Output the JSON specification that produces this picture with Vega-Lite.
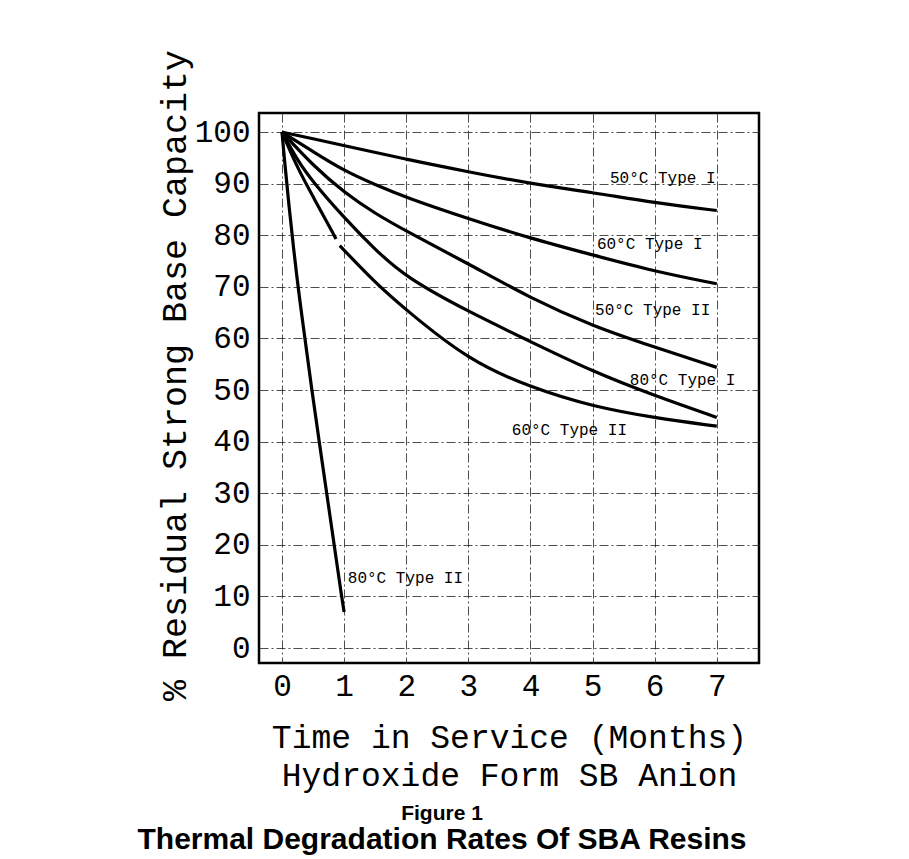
{
  "$schema": "https://vega.github.io/schema/vega-lite/v6.json",
  "autosize": "none",
  "width": 500,
  "height": 550,
  "padding": {"left": 259, "top": 113, "right": 150, "bottom": 196},
  "background": "white",
  "config": {
    "view": {"stroke": "black", "strokeWidth": 2.5},
    "font": "Liberation Mono",
    "axis": {
      "domain": false,
      "ticks": false,
      "grid": true,
      "gridColor": "#222222",
      "gridDash": [9, 3, 2, 3],
      "gridWidth": 1,
      "gridOpacity": 0.8,
      "labelFont": "Liberation Mono",
      "labelFontSize": 31,
      "labelColor": "black",
      "labelFlush": false,
      "titleFont": "Liberation Mono",
      "titleFontWeight": "normal",
      "titleColor": "black"
    }
  },
  "title": {
    "text": "Figure 1",
    "subtitle": "Thermal Degradation Rates Of SBA Resins",
    "orient": "bottom",
    "anchor": "middle",
    "dx": -67,
    "offset": 11,
    "font": "Liberation Sans",
    "fontSize": 21,
    "fontWeight": "bold",
    "color": "black",
    "subtitleFont": "Liberation Sans",
    "subtitleFontSize": 30,
    "subtitleFontWeight": "bold",
    "subtitleColor": "black",
    "subtitlePadding": 1
  },
  "datasets": {
    "curves": [
      {"s": "50°C Type I", "seg": 1, "t": 0, "v": 100},
      {"s": "50°C Type I", "seg": 1, "t": 0.5, "v": 98.7},
      {"s": "50°C Type I", "seg": 1, "t": 1, "v": 97.4},
      {"s": "50°C Type I", "seg": 1, "t": 2, "v": 94.7},
      {"s": "50°C Type I", "seg": 1, "t": 3, "v": 92.3},
      {"s": "50°C Type I", "seg": 1, "t": 4, "v": 90.0},
      {"s": "50°C Type I", "seg": 1, "t": 5, "v": 88.3},
      {"s": "50°C Type I", "seg": 1, "t": 6, "v": 86.3},
      {"s": "50°C Type I", "seg": 1, "t": 7, "v": 84.8},

      {"s": "60°C Type I", "seg": 1, "t": 0, "v": 100},
      {"s": "60°C Type I", "seg": 1, "t": 0.5, "v": 96.2},
      {"s": "60°C Type I", "seg": 1, "t": 1, "v": 92.5},
      {"s": "60°C Type I", "seg": 1, "t": 1.5, "v": 89.8},
      {"s": "60°C Type I", "seg": 1, "t": 2, "v": 87.3},
      {"s": "60°C Type I", "seg": 1, "t": 3, "v": 83.2},
      {"s": "60°C Type I", "seg": 1, "t": 4, "v": 79.4},
      {"s": "60°C Type I", "seg": 1, "t": 5, "v": 76.2},
      {"s": "60°C Type I", "seg": 1, "t": 6, "v": 73.0},
      {"s": "60°C Type I", "seg": 1, "t": 7, "v": 70.6},

      {"s": "50°C Type II", "seg": 1, "t": 0, "v": 100},
      {"s": "50°C Type II", "seg": 1, "t": 0.5, "v": 93.5},
      {"s": "50°C Type II", "seg": 1, "t": 1, "v": 88.3},
      {"s": "50°C Type II", "seg": 1, "t": 1.5, "v": 84.2},
      {"s": "50°C Type II", "seg": 1, "t": 2, "v": 80.8},
      {"s": "50°C Type II", "seg": 1, "t": 3, "v": 74.5},
      {"s": "50°C Type II", "seg": 1, "t": 4, "v": 67.8},
      {"s": "50°C Type II", "seg": 1, "t": 5, "v": 62.4},
      {"s": "50°C Type II", "seg": 1, "t": 6, "v": 58.3},
      {"s": "50°C Type II", "seg": 1, "t": 7, "v": 54.4},

      {"s": "80°C Type I", "seg": 1, "t": 0, "v": 100},
      {"s": "80°C Type I", "seg": 1, "t": 0.25, "v": 94.5},
      {"s": "80°C Type I", "seg": 1, "t": 0.5, "v": 90.3},
      {"s": "80°C Type I", "seg": 1, "t": 1, "v": 83.4},
      {"s": "80°C Type I", "seg": 1, "t": 1.5, "v": 77.2},
      {"s": "80°C Type I", "seg": 1, "t": 2, "v": 71.8},
      {"s": "80°C Type I", "seg": 1, "t": 3, "v": 65.2},
      {"s": "80°C Type I", "seg": 1, "t": 4, "v": 59.4},
      {"s": "80°C Type I", "seg": 1, "t": 5, "v": 53.6},
      {"s": "80°C Type I", "seg": 1, "t": 6, "v": 48.9},
      {"s": "80°C Type I", "seg": 1, "t": 7, "v": 44.7},

      {"s": "60°C Type II", "seg": 1, "t": 0, "v": 100},
      {"s": "60°C Type II", "seg": 1, "t": 0.25, "v": 93.0},
      {"s": "60°C Type II", "seg": 1, "t": 0.5, "v": 87.5},
      {"s": "60°C Type II", "seg": 1, "t": 0.87, "v": 79.3},
      {"s": "60°C Type II", "seg": 2, "t": 0.93, "v": 78.0},
      {"s": "60°C Type II", "seg": 2, "t": 1.5, "v": 70.8},
      {"s": "60°C Type II", "seg": 2, "t": 2, "v": 65.5},
      {"s": "60°C Type II", "seg": 2, "t": 3, "v": 55.8},
      {"s": "60°C Type II", "seg": 2, "t": 4, "v": 50.5},
      {"s": "60°C Type II", "seg": 2, "t": 5, "v": 46.8},
      {"s": "60°C Type II", "seg": 2, "t": 6, "v": 44.6},
      {"s": "60°C Type II", "seg": 2, "t": 7, "v": 43.0},

      {"s": "80°C Type II", "seg": 1, "t": 0, "v": 100},
      {"s": "80°C Type II", "seg": 1, "t": 0.03, "v": 96.0},
      {"s": "80°C Type II", "seg": 1, "t": 0.1, "v": 87.0},
      {"s": "80°C Type II", "seg": 1, "t": 0.24, "v": 71.5},
      {"s": "80°C Type II", "seg": 1, "t": 0.37, "v": 60.0},
      {"s": "80°C Type II", "seg": 1, "t": 0.48, "v": 50.0},
      {"s": "80°C Type II", "seg": 1, "t": 0.6, "v": 40.0},
      {"s": "80°C Type II", "seg": 1, "t": 0.72, "v": 30.0},
      {"s": "80°C Type II", "seg": 1, "t": 0.84, "v": 20.0},
      {"s": "80°C Type II", "seg": 1, "t": 0.96, "v": 10.0},
      {"s": "80°C Type II", "seg": 1, "t": 1.0, "v": 7.0}
    ],
    "labels": [
      {"label": "50°C Type I", "t": 5.28, "v": 91.1},
      {"label": "60°C Type I", "t": 5.07, "v": 78.3},
      {"label": "50°C Type II", "t": 5.04, "v": 65.5},
      {"label": "80°C Type I", "t": 5.6, "v": 51.9},
      {"label": "60°C Type II", "t": 3.7, "v": 42.2},
      {"label": "80°C Type II", "t": 1.06, "v": 13.6}
    ]
  },
  "layer": [
    {
      "data": {"name": "curves"},
      "mark": {"type": "line", "color": "black", "strokeWidth": 3.2, "interpolate": "basis"},
      "encoding": {
        "x": {
          "field": "t", "type": "quantitative",
          "scale": {"domain": [-0.37, 7.68], "nice": false, "zero": false},
          "axis": {
            "values": [0, 1, 2, 3, 4, 5, 6, 7],
            "format": "d",
            "labelPadding": 8,
            "title": ["Time in Service (Months)", "Hydroxide Form SB Anion"],
            "titleFontSize": 33,
            "titleLineHeight": 38,
            "titlePadding": 20
          }
        },
        "y": {
          "field": "v", "type": "quantitative",
          "scale": {"domain": [-2.9, 103.7], "nice": false, "zero": false},
          "axis": {
            "values": [0, 10, 20, 30, 40, 50, 60, 70, 80, 90, 100],
            "format": "d",
            "labelPadding": 9,
            "title": "% Residual Strong Base Capacity",
            "titleFontSize": 35,
            "titlePadding": 2,
            "titleY": 262
          }
        },
        "detail": [{"field": "s"}, {"field": "seg"}],
        "order": {"field": "t"}
      }
    },
    {
      "data": {"name": "labels"},
      "mark": {"type": "text", "align": "left", "baseline": "middle", "font": "Liberation Mono", "fontSize": 16, "color": "black"},
      "encoding": {
        "x": {"field": "t", "type": "quantitative"},
        "y": {"field": "v", "type": "quantitative"},
        "text": {"field": "label"}
      }
    }
  ]
}
